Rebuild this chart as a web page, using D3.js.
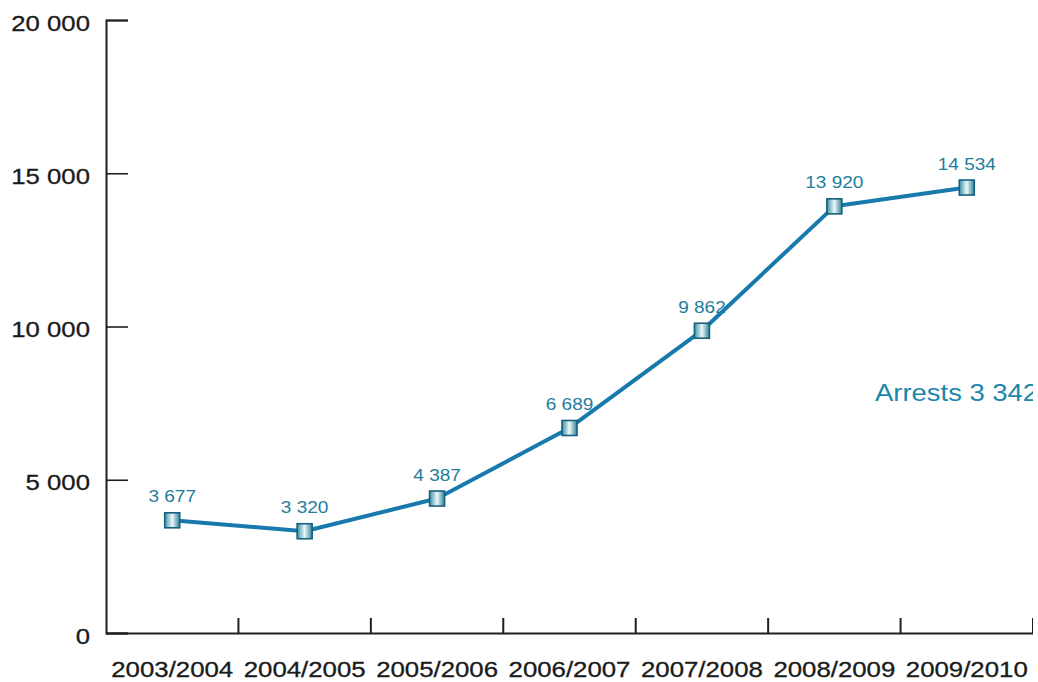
<!DOCTYPE html>
<html><head><meta charset="utf-8">
<script src="https://cdn.jsdelivr.net/npm/d3@7"></script>
<style>
html,body{margin:0;padding:0;background:#fff;}
svg{display:block;}
text{font-family:"Liberation Sans",Arial,Helvetica,sans-serif;}
</style></head>
<body>
<svg id="chart" width="1038" height="682"></svg>
<script>
const categories = ["2003/2004","2004/2005","2005/2006","2006/2007","2007/2008","2008/2009","2009/2010"];
const arrests = [3677, 3320, 4387, 6689, 9862, 13920, 14534];
const yTicks = [0, 5000, 10000, 15000, 20000];
const annotation = "Arrests 3 342";

const svg = d3.select("#chart");
const loc = d3.formatLocale({decimal:".", thousands:" ", grouping:[3], currency:["",""]});
const fmt = loc.format(",");

const x = d3.scaleBand().domain(categories).range([106, 1033]).padding(0);
const y = d3.scaleLinear().domain([0, 20000]).range([633, 20]);

const defs = svg.append("defs");
defs.append("clipPath").attr("id","clip").append("rect").attr("x",0).attr("y",0).attr("width",1033).attr("height",682);
const grad = defs.append("linearGradient").attr("id","mk").attr("x1","0").attr("x2","1").attr("y1","0").attr("y2","0");
grad.append("stop").attr("offset","0%").attr("stop-color","#3a93a6");
grad.append("stop").attr("offset","50%").attr("stop-color","#eef7fa");
grad.append("stop").attr("offset","100%").attr("stop-color","#2c8396");

const g = svg.append("g").attr("clip-path","url(#clip)");

// Y axis
const yAxis = g.append("g").attr("transform","translate(106,0)")
  .call(d3.axisLeft(y).tickValues(yTicks).tickSize(-22).tickPadding(0).tickFormat(fmt));
yAxis.select(".domain").attr("stroke","#1e1e1e").attr("stroke-width",2);
yAxis.selectAll(".tick line").attr("stroke","#1e1e1e").attr("stroke-width",1.6);
yAxis.selectAll(".tick text")
  .attr("x",0).attr("dy",null).attr("dominant-baseline",null)
  .attr("transform","translate(-16,10) scale(1.12,1)")
  .attr("font-size",23).attr("fill","#1a1a1a").attr("text-anchor","end")
  .attr("stroke","#1a1a1a").attr("stroke-width",0.3);

// X axis
const xAxis = g.append("g").attr("transform","translate(0,633)")
  .call(d3.axisBottom(x).tickSize(0).tickFormat(d => d));
xAxis.select(".domain").attr("stroke","#1e1e1e").attr("stroke-width",2);
xAxis.selectAll(".tick line").remove();
xAxis.selectAll(".tick text")
  .attr("y",0).attr("dy",null)
  .attr("transform","translate(0,44) scale(1.2,1)")
  .attr("font-size",21.5).attr("fill","#1a1a1a")
  .attr("stroke","#1a1a1a").attr("stroke-width",0.3);
// band boundary ticks (pointing up)
const bounds = categories.map(c => x(c) + x.bandwidth());
g.append("g").selectAll("line").data(bounds).join("line")
  .attr("x1", d => d).attr("x2", d => d)
  .attr("y1", 633).attr("y2", 618)
  .attr("stroke","#1e1e1e").attr("stroke-width",2);

// Line
const cx = d => x(d.c) + x.bandwidth()/2;
const pts = categories.map((c,i) => ({c, v: arrests[i]}));
g.append("path").datum(pts)
  .attr("fill","none").attr("stroke","#1879ad").attr("stroke-width",4)
  .attr("stroke-linejoin","round")
  .attr("d", d3.line().x(cx).y(d => y(d.v)));

// Markers
g.append("g").selectAll("rect").data(pts).join("rect")
  .attr("x", d => cx(d) - 7.5).attr("y", d => y(d.v) - 7.5)
  .attr("width", 15).attr("height", 15)
  .attr("fill","url(#mk)").attr("stroke","#17607e").attr("stroke-width",1.6);

// Value labels
g.append("g").selectAll("text").data(pts).join("text")
  .attr("transform", d => `translate(${cx(d)},${y(d.v) - 18}) scale(1.12,1)`)
  .attr("text-anchor","middle").attr("font-size",17).attr("fill","#1f7d9c")
  .text(d => fmt(d.v));

// Annotation
g.append("text")
  .attr("transform","translate(875,401) scale(1.12,1)")
  .attr("font-size",24.5).attr("fill","#1a86aa")
  .text(annotation);
</script>
</body></html>
